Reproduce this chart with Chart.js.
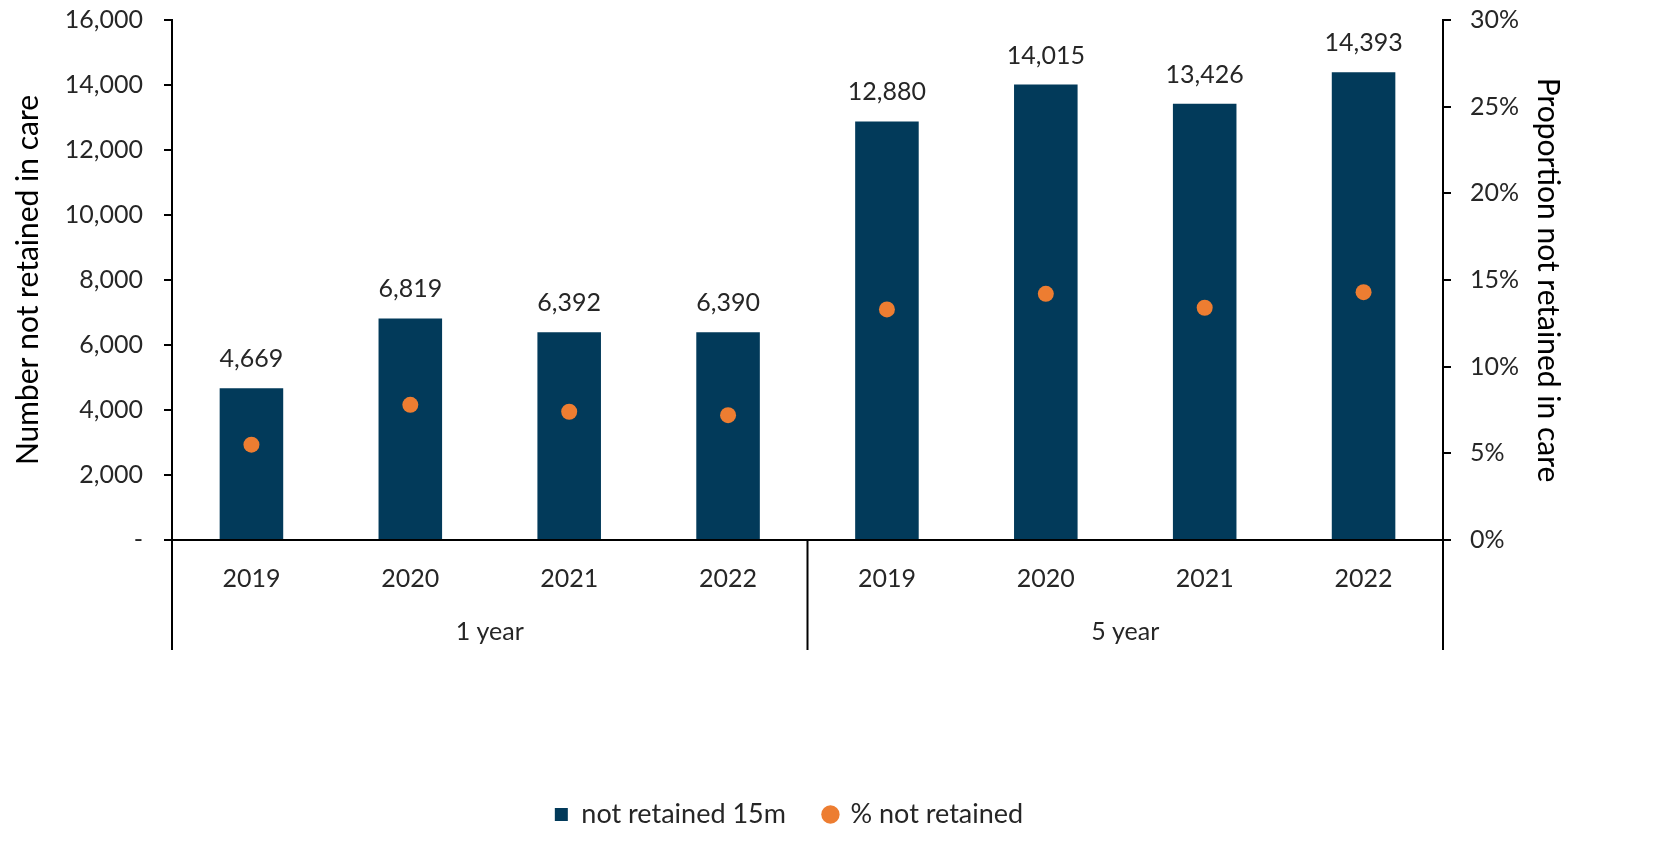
<!DOCTYPE html>
<html>
<head>
<meta charset="utf-8">
<script src="https://cdn.jsdelivr.net/npm/chart.js@4.4.1/dist/chart.umd.min.js"></script>
<style>
  html, body { margin: 0; padding: 0; background: #fff; }
  #wrap { width: 1658px; height: 846px; position: relative; }
</style>
</head>
<body>
<div id="wrap"><canvas id="retentionChart"></canvas></div>
<script>
// values
const years = ['2019', '2020', '2021', '2022', '2019', '2020', '2021', '2022'];
const groups = ['1 year', '5 year'];
const notRetained = [4669, 6819, 6392, 6390, 12880, 14015, 13426, 14393];
const pctNotRetained = [5.5, 7.8, 7.4, 7.2, 13.3, 14.2, 13.4, 14.3];
const leftTicks = [0, 2000, 4000, 6000, 8000, 10000, 12000, 14000, 16000];

const FONT = 'Lato, "Open Sans", sans-serif';
const TEXT = '#262626';

// number labels above the bars
const barLabels = {
    id: 'barLabels',
    afterDatasetsDraw(chart) {
        const ctx = chart.ctx;
        const meta = chart.getDatasetMeta(0);
        ctx.save();
        ctx.font = '25px ' + FONT;
        ctx.fillStyle = TEXT;
        ctx.textAlign = 'center';
        ctx.textBaseline = 'alphabetic';
        meta.data.forEach((bar, i) => {
            ctx.fillText(notRetained[i].toLocaleString('en-US'), bar.x, bar.y - 21);
        });
        ctx.restore();
    }
};

// second row of the category axis: group names + separators
const groupAxis = {
    id: 'groupAxis',
    afterDraw(chart) {
        const ctx = chart.ctx;
        const x = chart.scales.x;
        const area = chart.chartArea;
        const per = years.length / groups.length;
        ctx.save();
        ctx.strokeStyle = '#000';
        ctx.lineWidth = 2;
        const edges = [area.left];
        for (let g = 1; g < groups.length; g++) {
            edges.push((x.getPixelForValue(g * per - 1) + x.getPixelForValue(g * per)) / 2);
        }
        edges.push(area.right);
        edges.forEach(px => {
            ctx.beginPath();
            ctx.moveTo(px, area.bottom);
            ctx.lineTo(px, area.bottom + 110);
            ctx.stroke();
        });
        ctx.font = '25px ' + FONT;
        ctx.fillStyle = TEXT;
        ctx.textAlign = 'center';
        ctx.textBaseline = 'middle';
        groups.forEach((name, g) => {
            const mid = (x.getPixelForValue(g * per) + x.getPixelForValue(g * per + per - 1)) / 2;
            ctx.fillText(name, mid, area.bottom + 92);
        });
        ctx.restore();
    }
};

new Chart(document.getElementById('retentionChart'), {
    type: 'bar',
    data: {
        labels: years,
        datasets: [{
            label: 'not retained 15m',
            data: notRetained,
            backgroundColor: '#023A5A',
            barPercentage: 0.4,
            categoryPercentage: 1,
            yAxisID: 'y',
            order: 2,
            pointStyle: 'rect'
        }, {
            type: 'line',
            label: '% not retained',
            data: pctNotRetained,
            showLine: false,
            pointRadius: 8,
            pointHoverRadius: 8,
            pointBackgroundColor: '#ED7D31',
            pointBorderWidth: 0,
            backgroundColor: '#ED7D31',
            borderColor: '#ED7D31',
            yAxisID: 'y1',
            order: 1,
            pointStyle: 'circle'
        }]
    },
    options: {
        responsive: true,
        maintainAspectRatio: false,
        animation: false,
        layout: { padding: { top: 20, bottom: 8, right: 80 } },
        plugins: {
            tooltip: { enabled: false },
            legend: {
                position: 'bottom',
                labels: {
                    usePointStyle: true,
                    boxWidth: 13,
                    boxHeight: 13,
                    padding: 38,
                    color: TEXT,
                    font: { family: FONT, size: 27 },
                    sort: (a, b) => a.datasetIndex - b.datasetIndex
                }
            }
        },
        scales: {
            x: {
                grid: { display: false },
                border: { color: '#000', width: 2 },
                ticks: { color: TEXT, padding: 16, font: { family: FONT, size: 25 } },
                afterFit(scale) { scale.height = 223; }
            },
            y: {
                position: 'left',
                min: 0,
                max: 16000,
                afterBuildTicks(scale) { scale.ticks = leftTicks.map(v => ({ value: v })); },
                grid: { drawOnChartArea: false, color: '#000', lineWidth: 2, tickLength: 8 },
                border: { color: '#000', width: 2 },
                ticks: {
                    color: TEXT,
                    padding: 21,
                    font: { family: FONT, size: 25 },
                    callback: v => v === 0 ? '-' : v.toLocaleString('en-US')
                },
                title: {
                    display: true,
                    text: 'Number not retained in care',
                    color: '#000',
                    font: { family: FONT, size: 30 },
                    padding: { top: 10, bottom: 0 }
                },
                afterFit(scale) {
                    scale.width = 172;
                    scale.paddingTop = 0;
                }
            },
            y1: {
                position: 'right',
                min: 0,
                max: 30,
                grid: { drawOnChartArea: false, color: '#000', lineWidth: 2, tickLength: 8 },
                border: { color: '#000', width: 2 },
                ticks: {
                    stepSize: 5,
                    color: TEXT,
                    padding: 19,
                    font: { family: FONT, size: 25 },
                    callback: v => v + '%'
                },
                title: {
                    display: true,
                    text: 'Proportion not retained in care',
                    color: '#000',
                    font: { family: FONT, size: 30 },
                    padding: { top: 12, bottom: 0 }
                },
                afterFit(scale) {
                    scale.width = 135;
                    scale.paddingTop = 0;
                }
            }
        }
    },
    plugins: [barLabels, groupAxis]
});
</script>
</body>
</html>
